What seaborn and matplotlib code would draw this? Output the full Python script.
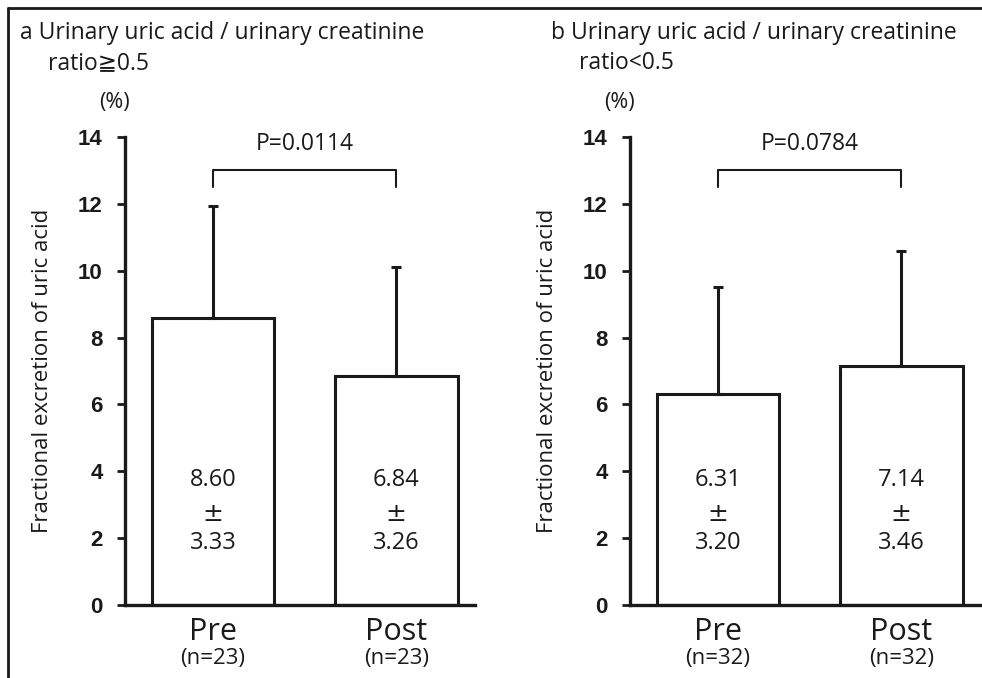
import matplotlib
matplotlib.use("Agg")
import matplotlib.pyplot as plt
import seaborn as sns
import pandas as pd
from matplotlib.lines import Line2D

# ---- data ----
categories = ["Pre", "Post"]
means_a = [8.60, 6.84]
sds_a = [3.33, 3.26]
n_a = [23, 23]
p_a = "P=0.0114"
means_b = [6.31, 7.14]
sds_b = [3.20, 3.46]
n_b = [32, 32]
p_b = "P=0.0784"
yticks = [0, 2, 4, 6, 8, 10, 12, 14]
titles = [("a Urinary uric acid / urinary creatinine", "ratio\u22670.5"),
          ("b Urinary uric acid / urinary creatinine", "ratio<0.5")]
ylabel = "Fractional excretion of uric acid"

sns.set_theme(style="white")
plt.rcParams['font.family'] = ['Open Sans', 'DejaVu Sans']

fig = plt.figure(figsize=(9.82, 6.78), dpi=100)
W, H = 982, 678
INK = "#1a1a1a"

def fx(px):
    return px / W

def fy(py):
    return 1 - py / H

panels = [
    (125, means_a, sds_a, n_a, p_a, titles[0], 20),
    (630, means_b, sds_b, n_b, p_b, titles[1], 551),
]

for left_px, means, sds, ns, ptxt, (t1, t2), tx in panels:
    ax = fig.add_axes([fx(left_px), fy(605), fx(350), (605 - 137) / H])
    df = pd.DataFrame({"cat": categories, "val": means})
    sns.barplot(data=df, x="cat", y="val", ax=ax, color="white",
                edgecolor=INK, linewidth=2.2, width=0.67, errorbar=None,
                saturation=1)
    ax.errorbar(range(len(means)), means, yerr=[[0] * len(sds), sds],
                fmt="none", ecolor=INK, elinewidth=2.2, capsize=3.5,
                capthick=2.2, zorder=1)
    ax.set_xlim(-0.48, 1.43)
    ax.set_ylim(0, 14)
    ax.set_yticks(yticks)
    ax.set_yticklabels([str(t) for t in yticks], family="Liberation Sans",
                       fontweight="bold", fontsize=16, color=INK)
    ax.tick_params(axis="y", direction="out", length=6, width=2,
                   color=INK, pad=10, left=True)
    ax.set_xticks(range(len(categories)))
    ax.set_xticklabels([""] * len(categories))
    ax.tick_params(axis="x", length=0)
    for s in ["top", "right"]:
        ax.spines[s].set_visible(False)
    for s in ["left", "bottom"]:
        ax.spines[s].set_color(INK)
        ax.spines[s].set_linewidth(2.4)
    ax.set_xlabel("")
    ax.set_ylabel(ylabel, fontsize=16, color=INK)
    ax.yaxis.set_label_coords(-0.205, 0.5)
    ax.patch.set_alpha(0)

    for i, (cat, m, s, n) in enumerate(zip(categories, means, sds, ns)):
        ax.text(i, 3.75, f"{m:.2f}", ha="center", va="center", fontsize=17,
                color=INK)
        ax.text(i, 2.72, "\u00b1", ha="center", va="center", fontsize=18,
                color=INK, family=["DejaVu Sans"])
        ax.text(i, 1.86, f"{s:.2f}", ha="center", va="center", fontsize=17,
                color=INK)
        ax.text(i, -0.82, cat, ha="center", va="center", fontsize=22,
                color=INK, clip_on=False)
        ax.text(i, -1.6, f"(n={n})", ha="center", va="center", fontsize=16,
                color=INK, clip_on=False)

    # significance bracket
    ax.plot([0, 0, 1, 1], [12.5, 13.02, 13.02, 12.5], color=INK,
            lw=1.5, clip_on=False)
    ax.text(0.5, 13.78, ptxt, ha="center", va="center", fontsize=16.5,
            color=INK)
    ax.text(-0.03, 1.073, "(%)", transform=ax.transAxes, ha="center",
            va="center", fontsize=15.5, color=INK)

    fig.text(fx(tx), fy(33), t1, ha="left", va="center", fontsize=16.5,
             color=INK)
    fig.text(fx(tx + 28), fy(63), t2, ha="left", va="center", fontsize=16.5,
             color=INK)

# figure frame lines (top and left)
fig.add_artist(Line2D([fx(8), 1], [fy(8), fy(8)], color=INK, lw=2))
fig.add_artist(Line2D([fx(8), fx(8)], [fy(8), 0], color=INK, lw=2))

fig.savefig("out.png", dpi=100)
